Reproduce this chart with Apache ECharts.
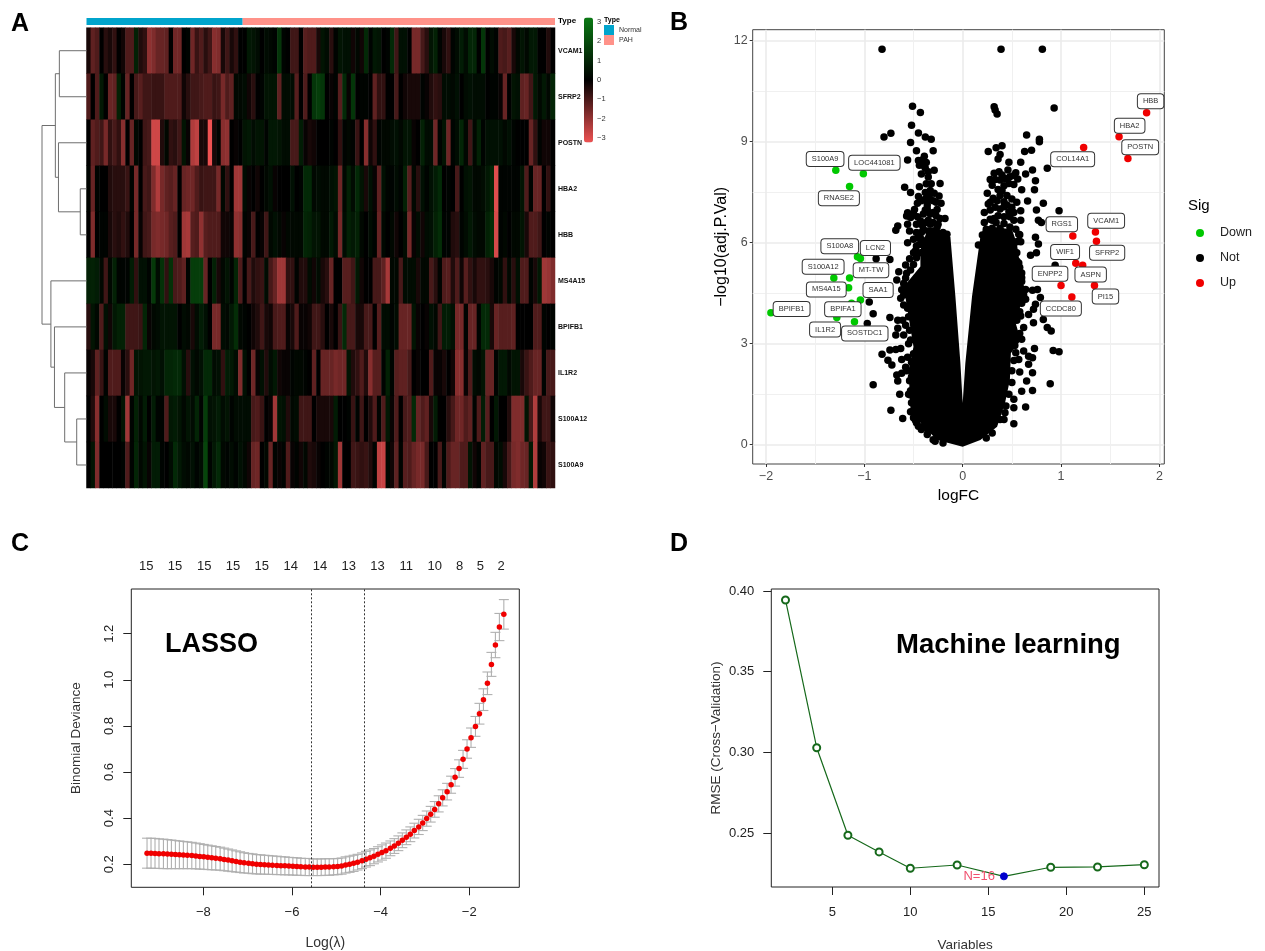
<!DOCTYPE html>
<html>
<head>
<meta charset="utf-8">
<title>Figure</title>
<script src="https://cdn.jsdelivr.net/npm/echarts@6/dist/echarts.min.js"></script>
<style>
  html, body { margin: 0; padding: 0; background: #fff; }
  #chart { width: 1265px; height: 951px; }
</style>
</head>
<body>
<div id="chart"></div>
<script>
// panel A: heatmap, 108 samples (36 Normal, 72 PAH)
const genes = ['VCAM1', 'SFRP2', 'POSTN', 'HBA2', 'HBB', 'MS4A15', 'BPIFB1', 'IL1R2', 'S100A12', 'S100A9']
const typeNames = ['Normal', 'PAH']
const typeCounts = [36, 72]
const rowVCAM1 = [-.3,-1.2,-1,0,-.5,-.3,-.6,0,-.2,-1,-1,.8,-.4,-.6,-1.8,-1.6,-1.3,-1.3,-1.2,0,-1.4,-1.4,0,.1,-1.4,-.7,-1,-.5,-.8,-1.7,-1.6,-.3,-.8,-.3,-.6,0,
  0,.6,.5,.3,0,.3,.2,.1,1.3,.1,0,-.8,-.8,0,-1.1,-1,-1,-.3,
  .5,.3,-.5,.1,.5,.4,.4,-.2,.2,-.2,1,.1,.6,.5,0,.1,1,-.8,.4,.4,0,-1.5,-1.5,-.9,-.5,.5,.8,.1,-.3,-.6,.1,.3,.7,.3,.9,.9,0,1.3,0,.3,.1,-1,-.9,-1.1,-.3,.2,.5,.2,.6,.6,0,0,-.4,0]
const rowSFRP2 = [-1,0,-1,.6,0,-1.3,-1.2,.8,.1,-1.3,0,-.9,-1.1,-.8,-.8,-.7,-.7,-.7,-1,-1,-1,-1,-.2,-.5,-.8,-.8,-.9,-1,-1,-.7,-.8,-1.5,-1,-1.2,.2,.2,
  .3,-.2,-.5,0,.1,.5,.5,.5,-1.2,.3,.3,.3,-1.1,0,-1,0,1.3,1.5,
  1.3,0,-.1,.1,-1.1,1,-.1,1.3,0,.1,.1,0,-1.2,-.6,-.6,0,0,-.9,0,-.2,-.3,-.3,-.3,.1,-.1,-.4,-.6,-.5,.3,.3,.2,.4,0,.3,.4,.3,.3,.3,0,.1,.1,-.1,-1.3,0,.5,.4,-1.2,-1.3,-.8,.6,.2,.6,.2,.9]
const rowPOSTN = [0,-1.2,-1,-.8,-1.5,-.6,-.9,-.6,-1.7,0,-1.3,.2,0,-.8,-.9,-2.6,-2.6,-.4,.2,-.6,-.5,-.8,.5,-.1,-2.2,-2.4,-.3,-.3,-3,-.3,.1,-1.7,-1.8,0,-.1,0,
  .5,.6,.3,.5,.5,.1,.6,.6,.5,.3,.3,-.9,-.9,.7,-.1,-.3,-.2,0,
  0,0,.1,0,-.6,.1,.2,.1,-.7,0,-1.7,-.2,-.6,.1,.2,.2,.3,.4,.2,.5,.5,-.1,0,.8,.3,.3,-1.4,.1,.5,-1.4,.1,.3,.9,.2,-.8,.2,.8,.1,.4,.4,.4,.4,.2,.4,.1,0,0,0,-1.3,-.6,.1,-.2,-.2,0]
const rowHBA2 = [.1,-1.3,.1,0,0,-.4,-.5,-.5,-.5,-.7,.1,-1.5,0,-.9,-.8,-1.6,-2.2,-1.5,-1.2,-1.1,-1.3,0,-1.3,-1.4,-1.4,-1,-.7,-.8,-.8,-.8,-1.5,.2,-.6,0,-2,-2,
  .3,-.1,0,-.2,0,.2,.4,-.1,0,0,0,.4,0,.1,1,1,.2,.3,
  .2,.2,.4,.5,-1.4,.2,.8,.3,1,.5,-.3,.4,-.1,-1.2,.4,.1,.1,.3,.1,.8,-1.1,.2,-.5,.4,.1,.4,.7,1,0,.1,0,-.9,0,.4,.5,.2,.2,.3,.6,.9,-2.8,.1,.1,.1,.1,.1,.5,-1,.1,-1.3,-1.3,0,-.6,0]
const rowHBB = [0,-1.6,0,.1,.1,-.3,-.5,-.4,-.6,-.4,0,-1.5,-.1,-.8,-.9,-1.5,-1.6,-1.5,-1.4,-1.1,-1,0,-2,-2.1,-1.1,-1,-1.8,-1.1,-1,-1,-1,-.2,-.2,-.1,-1.8,-1.7,
  .1,-.1,-.9,0,-.1,-.8,.2,.4,.2,-.1,.2,.2,.2,.2,.9,.8,.5,.5,
  .2,.2,.6,.3,-1.5,.3,.8,.6,.8,.2,0,.3,.1,-1.3,.2,0,.2,-.2,0,.3,-1.5,-.1,.3,-.2,.3,.4,.8,1.1,.1,.1,-.4,-.5,.1,.3,.6,.3,.2,.2,.8,1.1,-2.7,.1,.2,0,.2,.2,.5,-.3,-1,-1,-.8,0,.1,0]
const rowMS4A15 = [.8,.8,.7,.2,-.8,.2,.8,.1,.1,.1,.7,-.6,.4,.4,.1,1.4,.3,1.2,-.6,1.2,-.9,-1,-1.2,.1,1.5,1.5,1.5,-1.3,0,.8,-.3,.2,.5,.1,.9,-1,
  0,-.9,-.4,-.6,-.7,.3,-.9,-1.3,-2,-2,-.6,-.6,.1,-.4,-.4,.3,-.2,.3,
  -.3,-.5,-1.3,0,0,-1.1,-1.1,-.8,.6,-.2,0,0,-.9,-.9,-1.2,-2.1,.2,.2,-.9,.3,.3,.3,-.3,.2,.2,-.9,-.5,.1,-1,-1.1,-.4,-1,-.2,-1.1,-.6,-.3,-.6,-.6,-.5,-.3,.1,.2,-.6,.2,-.5,.4,-1,-1,.1,-.3,.6,-2,-1.9,-1.6]
const rowBPIFB1 = [-.5,.5,.2,-1,.4,-.2,.6,.8,.8,-.8,-.8,-.8,-.7,.9,-.1,.2,.3,.5,.5,.5,.5,0,.3,.2,-.3,.3,.7,.4,0,-1.5,-1.5,.3,.2,.6,1.1,.2,
  .1,0,-.2,-.4,-.8,-.3,-.2,-.9,-1,-1,-.1,-.3,-1,-.1,-.1,-.2,-.8,-.8,
  -.5,0,-.3,0,-.7,1,-.9,-.9,-.3,-.3,-.9,-.9,0,-1.1,.3,.3,.1,.3,-1.3,-1.3,-1.3,.5,-.1,0,-.1,.4,.2,-.8,.7,.7,.4,-1.5,-1.5,.1,-1.3,-1.3,.1,1,1,-.3,-1.3,-1.1,-1.1,-1.1,-1.2,0,0,0,0,-1,-1,.1,0,.1]
const rowIL1R2 = [-.1,-.3,-1.2,-.7,.1,-1,-1,-1,-.1,-.5,-1.4,.5,.5,.6,.6,.5,.6,.4,.9,.9,1,1,.4,-.5,.4,.2,.4,1,1,.3,.4,-.6,.7,.6,.3,-1.6,
  .4,0,-1.4,-.1,.4,-.4,.3,.6,-.2,-.1,-.1,.1,.2,.2,.1,0,-1.2,0,
  -1.3,-1.3,-1.3,-1.5,-1.4,-1.4,.5,-.4,-.6,-1,-.4,-1.7,-1.1,-1.1,.1,.8,.1,-1.1,-1.2,-1.2,-.9,0,-.1,0,0,-1,-.1,-.1,-.3,0,-.2,-1.7,-1.7,-.1,-1,.3,.2,.5,-1.3,-1.3,.1,.6,.6,.2,.5,.5,-.3,-.7,-1,-1.3,-1.3,.1,-.9,-.9]
const rowS100A12 = [0,-.4,-1.7,0,.3,-.3,-.3,0,.5,-2,.1,.8,.2,.7,0,.7,.1,.1,-1,.6,.7,.5,.2,.5,.3,.9,.1,1.5,.4,.5,.7,.3,.5,.1,.3,.3,
  .3,.3,-.9,-1,-.7,0,-.1,-2,.5,.4,-.4,.2,.3,-.8,-.8,-.8,0,-.3,
  -.3,-.3,-.3,.7,0,0,.1,-.7,.1,-.8,0,-.4,-1,.1,-1,.6,-.1,-1,0,-.9,-1,1,-1.3,-1,-1.2,-.3,.7,0,0,-.5,-.9,-1.4,-1.4,-1,-1.2,.1,-1,.7,-1.1,0,.6,0,0,-.4,-1.6,-1.6,-1.6,.5,-.9,-2.2,-.3,-.8,-.8,-.2]
const rowS100A9 = [0,.5,-1.6,0,0,0,0,0,.1,-1,.1,.9,.2,.5,-.1,.7,.7,.1,0,.3,1,.6,.3,.2,.4,.1,.3,1.7,.1,.6,1,.2,.1,.3,.1,.4,
  .2,-.2,-1.3,-1.4,0,.2,-1.3,.1,-.1,.1,-1,-.1,.1,-.2,.2,-.4,-.3,-.1,
  0,.1,.2,.6,-2,0,0,-.8,-.7,-.6,-.7,-.4,.1,-2.4,-2.5,.2,-.2,-1.2,.1,-1.1,-1,-1.3,-1.5,-1.5,-.9,0,0,-.9,.1,-1,-1.3,-1.3,-1,-1,.5,-.2,.1,-1.2,-.9,-.9,.2,.3,-.3,-.9,-1.5,-1.6,-1.4,-1.3,.6,-2.2,-.1,-.2,-.7,-.6]
const heatRows = [rowVCAM1, rowSFRP2, rowPOSTN, rowHBA2, rowHBB, rowMS4A15, rowBPIFB1, rowIL1R2, rowS100A12, rowS100A9]
// dendrogram merges: height, upper y, lower y, upper child height, lower child height (y in row units)
const dendroMerges = [
  [.61, .5, 1.5, 0, 0], [.14, 3.5, 4.5, 0, 0], [.63, 2.5, 4, 0, .14], [.70, 1, 3.25, .61, .63],
  [.22, 8.5, 9.5, 0, 0], [.49, 7.5, 9, 0, .22], [.72, 6.5, 8.25, 0, .49], [.80, 5.5, 7.375, 0, .72],
  [1, 2.125, 6.44, .70, .80]
]

// panel B: volcano
const downGenes = ['S100A9', 'LOC441081', 'RNASE2', 'S100A8', 'LCN2', 'S100A12', 'MT-TW', 'MS4A15', 'SAA1', 'BPIFB1', 'BPIFA1', 'IL1R2', 'SOSTDC1']
const downFC = [-1.29, -1.01, -1.15, -1.07, -1.04, -1.31, -1.15, -1.16, -1.04, -1.95, -1.13, -1.28, -1.1]
const downP = [8.15, 8.05, 7.67, 5.58, 5.53, 4.95, 4.95, 4.66, 4.3, 3.92, 4.2, 3.78, 3.65]
const upGenes = ['HBB', 'HBA2', 'POSTN', 'COL14A1', 'RGS1', 'VCAM1', 'SFRP2', 'WIF1', 'ASPN', 'ENPP2', 'PI15', 'CCDC80']
const upFC = [1.87, 1.59, 1.68, 1.23, 1.12, 1.35, 1.36, 1.15, 1.22, 1.0, 1.34, 1.11]
const upP = [9.86, 9.15, 8.5, 8.83, 6.2, 6.32, 6.04, 5.39, 5.33, 4.73, 4.73, 4.39]
// not significant genes that can be told apart
const notLeft = [[-.82,11.75],[-.51,10.05],[-.43,9.87],[-.52,9.49],[-.45,9.26],[-.8,9.14],[-.73,9.25],[-.38,9.14],[-.32,9.07],[-.53,8.98],[-.47,8.73],[-.3,8.73],[-.56,8.46],[-.45,8.44],[-.39,8.57],[-.41,8.46],[-.37,8.38],[-.38,8.21],[-.35,8.11],[-.29,8.15],[-.42,8.04],[-.32,7.75],[-.23,7.76],[-.59,7.65],[-.44,7.66],[-.53,7.49],[-.38,7.49],[-.29,7.47],[-.45,7.37],[-.24,7.39],[-.46,7.17],[-.56,6.89],[-.57,6.79],[-.49,6.99],[-.36,7.12],[-.22,7.17],[-.38,6.97],[-.26,6.99],[-.46,6.77],[-.23,6.72],[-.18,6.72],[-.66,6.5],[-.68,6.37],[-.56,6.55],[-.54,6.35],[-.41,6.52],[-.35,6.67],[-.26,6.47],[-.16,6.25],[-.56,6],[-.45,6.15],[-.41,6.05],[-.48,5.76],[-.88,5.52],[-.74,5.5],[-.54,5.52],[-.43,5.7],
  [-.58,5.34],[-.53,5.19],[-.65,5.14],[-.57,5.09],[-.67,4.89],[-.6,4.79],[-.57,4.54],[-.63,4.35],[-.6,4.15],[-.95,4.24],[-.91,3.89],[-.97,3.6],[-.74,3.78],[-.66,3.7],[-.61,3.7],[-.55,3.8],[-.66,3.46],[-.68,3.26],[-.6,3.26],[-.53,3.11],[-.82,2.69],[-.74,2.81],[-.68,2.83],[-.63,2.86],[-.76,2.51],[-.72,2.37],[-.62,2.53],[-.67,2.07],[-.62,2.12],[-.66,1.89],[-.91,1.78],[-.64,1.5],[-.53,1.48],[-.73,1.02],[-.61,.78],[-.52,2.02],[-.5,1.72],[-.53,.98],[-.48,.73],[-.4,.53],[-.35,.42],
  [-.36,7],[-.33,6.85],[-.3,6.9],[-.27,6.8],[-.4,6.85],[-.43,6.65],[-.37,6.6],[-.33,6.55],[-.3,6.6],[-.25,6.55],[-.4,6.4],[-.35,6.35],[-.3,6.35],[-.26,6.3],[-.2,6.3],[-.42,6.3],[-.47,6.3],[-.5,6.1],[-.44,5.95],[-.38,5.95],[-.32,6.1],[-.28,6.1],[-.22,6.1],[-.47,5.9],[-.5,5.7],[-.36,7.25],[-.42,7.25],[-.34,7.35],[-.3,7.25],[-.38,7.3],[-.5,6.85],[-.53,6.75],[-.47,6.55],[-.33,7.55],[-.37,7.75],[-.35,7.95],[-.27,7.2],[-.4,8.3],[-.44,8.3],
  [-.55,3],[-.56,2.6],[-.58,2.3],[-.55,1.5],[-.5,.8],[-.45,.55],[-.3,.15],[-.2,.05],
  [-.5,.95],[-.52,1.25],[-.53,1.6],[-.54,1.9],[-.57,2.2],[-.52,2.45],[-.5,2.7],[-.54,3.4],[-.58,3.55],[-.56,4.05],[-.6,4.45],[-.62,4.6],[-.58,4.95],[-.5,5.35],[-.47,5.55],[-.4,5.95],[-.42,6.1],[-.36,.3],[-.42,.45],[-.47,.65],[-.28,.1]]
const notRight = [[.39,11.75],[.81,11.75],[.32,10.04],[.33,9.94],[.35,9.82],[.93,10],[.65,9.2],[.78,9.07],[.78,9],[.4,8.88],[.34,8.82],[.26,8.71],[.63,8.71],[.7,8.75],[.38,8.62],[.36,8.49],[.47,8.39],[.59,8.39],[.86,8.21],[.71,8.16],[.64,8.04],[.46,8.16],[.54,8.08],[.56,7.89],[.74,7.84],[.52,7.73],[.6,7.57],[.73,7.57],[.25,7.47],[.31,7.32],[.66,7.24],[.82,7.17],[.26,7.15],[.42,7.22],[.45,7.12],[.98,6.95],[.75,6.97],[.59,6.95],[.28,6.97],[.77,6.67],[.8,6.6],[.88,6.65],[.59,6.67],[.58,6.24],[.74,6.16],[.77,5.96],[.52,5.73],[.59,6.03],[.75,5.7],[.69,5.63],
  [.32,8.06],[.37,8.11],[.4,8.01],[.28,7.88],[.33,7.88],[.38,7.86],[.43,7.91],[.48,7.96],[.3,7.71],[.36,7.58],[.42,7.69],[.47,7.76],[.4,7.54],[.42,7.07],[.47,6.92],[.48,6.77],[.52,6.67],[.3,6.67],[.32,6.72],[.42,6.57],[.48,6.47],[.3,6.43],[.38,6.43],[.2,6.23],[.26,6.18],[.4,6.18],[.48,6.18],[.55,6.03],[.16,5.93],[.42,6.77],
  [.57,6.25],[.57,6.05],[.55,5.46],[.58,5.26],[.94,5.33],[.43,5.36],[.42,5.1],[.6,4.96],[.59,4.66],[.64,4.61],[.71,4.59],[.76,4.61],[.79,4.37],[.64,4.32],[.74,4.17],[.72,4.02],[.59,3.82],[.67,3.87],[.72,3.62],[.82,3.72],[.86,3.48],[.9,3.38],[.62,3.48],[.6,3.13],[.73,2.86],[.92,2.8],[.98,2.76],[.62,2.78],[.54,2.73],[.67,2.63],[.71,2.58],[.57,2.53],[.67,2.39],[.71,2.14],[.58,2.16],[.65,1.89],[.89,1.81],[.71,1.61],[.6,1.59],[.52,1.35],[.64,1.12],[.52,1.1],[.52,.62],[.42,.75],[.43,.95],
  [.62,4.45],[.6,4.2],[.58,3.95],[.55,3.7],[.58,3.3],[.53,2.95],[.52,2.5],[.5,2.2],[.5,1.85],[.47,1.5],[.44,1.15],[.38,.75],[.3,.35],[.24,.2],[.55,5.7],[.57,5.4],[.6,5.1],[.6,4.85],
  [.22,6.6],[.28,6.7],[.34,6.6],[.36,6.8],[.38,7],[.33,7.05],[.28,7.2],[.35,7.25],[.38,7.4],[.45,7.4],[.5,7.3],[.5,7.05],[.22,6.9],[.24,6.4],[.46,6.3],[.54,6.4],[.52,6.9],[.55,7.2],[.52,8]]
// outline of the solid black mass where single genes can't be told apart
const massOutline = [[0,-.06],[-.26,.14],[-.41,.58],[-.53,1.03],[-.55,2.22],[-.5,2.91],[-.55,3.8],[-.6,4.69],[-.43,5.29],[-.43,5.78],[-.36,6.38],[-.16,6.2],[-.125,6.18],[-.074,4.4],[-.023,2.42],[0,1.24],[.027,2.42],[.095,4.4],[.18,6.18],[.22,6.5],[.5,6.4],[.55,5.99],[.59,5.19],[.62,4.5],[.54,3.6],[.59,3.1],[.49,2.72],[.48,1.92],[.43,1.23],[.35,.53],[.18,.14]]

// panel C: lasso
const lassoLogL = [-9.27,-9.18,-9.09,-9.00,-8.90,-8.81,-8.72,-8.63,-8.54,-8.45,-8.36,-8.26,-8.17,-8.08,-7.99,-7.90,-7.81,-7.72,-7.62,-7.53,-7.44,-7.35,-7.26,-7.17,-7.08,-6.98,-6.89,-6.80,-6.71,-6.62,-6.53,-6.44,-6.34,-6.25,-6.16,-6.07,-5.98,-5.89,-5.80,-5.70,-5.61,-5.52,-5.43,-5.34,-5.25,-5.16,-5.06,-4.97,-4.88,-4.79,-4.70,-4.61,-4.52,-4.42,-4.33,-4.24,-4.15,-4.06,-3.97,-3.88,-3.78,-3.69,-3.60,-3.51,-3.42,-3.33,-3.24,-3.14,-3.05,-2.96,-2.87,-2.78,-2.69,-2.60,-2.50,-2.41,-2.32,-2.23,-2.14,-2.05,-1.96,-1.86,-1.77,-1.68,-1.59,-1.50,-1.41,-1.32,-1.22]
const lassoDev = [.248,.248,.247,.246,.245,.244,.243,.242,.241,.240,.239,.238,.236,.234,.232,.230,.228,.226,.224,.221,.218,.215,.212,.209,.206,.204,.202,.200,.199,.198,.197,.196,.195,.194,.193,.192,.191,.190,.189,.188,.188,.187,.187,.187,.188,.188,.189,.190,.192,.197,.200,.204,.209,.215,.222,.228,.235,.243,.251,.259,.269,.279,.291,.304,.317,.33,.346,.362,.379,.398,.417,.438,.462,.488,.515,.545,.577,.615,.655,.70,.749,.798,.853,.914,.985,1.067,1.151,1.229,1.284]
const lassoSe = [.065,.065,.065,.064,.064,.063,.062,.061,.060,.059,.058,.057,.056,.055,.054,.053,.052,.051,.050,.049,.048,.047,.046,.045,.044,.043,.043,.042,.042,.041,.041,.040,.040,.039,.039,.038,.038,.038,.037,.037,.037,.036,.036,.036,.036,.036,.035,.035,.035,.035,.035,.035,.034,.034,.034,.034,.033,.033,.033,.033,.032,.032,.032,.032,.032,.032,.032,.033,.033,.033,.034,.034,.035,.035,.036,.037,.038,.038,.039,.040,.042,.043,.045,.047,.049,.052,.055,.059,.064]
const lassoLambdas = [-5.57, -4.36]
const dfPositions = [-9.29, -8.64, -7.98, -7.33, -6.68, -6.03, -5.37, -4.72, -4.07, -3.42, -2.78, -2.22, -1.75, -1.28]
const dfCounts = ['15', '15', '15', '15', '15', '14', '14', '13', '13', '11', '10', '8', '5', '2']

// panel D: RFE
const rfeVars = [2, 4, 6, 8, 10, 13, 16, 19, 22, 25]
const rfeRmse = [.3944, .303, .2488, .2385, .2284, .2304, .2234, .229, .2292, .2306]
const bestVars = 16

// label box offsets from their point, px
const downOffsets = [[-10.7,-11.3],[11,-11],[-10.7,11.7],[-17.7,-10.7],[15,-10.6],[-10.7,-11.3],[21.4,-7.7],[-22.3,1.6],[17.7,-10],[20.7,-3.7],[-8.7,6],[-11.7,12],[10.3,11.6]]
const upOffsets = [[4,-11.4],[10.6,-11],[12.3,-11.3],[-11,11.7],[-11,-11.7],[10.7,-11.3],[10.7,11.4],[-10.7,-11.3],[8,9.3],[-11,-11.7],[11,11],[-11,11.6]]

const FONT = '"Liberation Sans", Arial, sans-serif'
const minus = v => String(v).replace('-', '\u2212')

const heatData = []
heatRows.forEach((row, r) => row.forEach((v, c) => heatData.push([c, r, v])))

const volcanoLabel = { show: true, position: 'inside', formatter: '{b}', color: '#333', fontSize: 7.5, fontFamily: FONT,
  backgroundColor: '#fff', borderColor: '#333', borderWidth: 1, borderRadius: 3, padding: [3, 5] }

const hiddenAxis = (gridIndex, extra) => Object.assign({ gridIndex, show: false }, extra)
const rAxisBase = {
  axisLine: { show: false, onZero: false }, splitLine: { show: false },
  axisTick: { length: 8, inside: false, lineStyle: { color: '#222' } },
  nameLocation: 'middle', nameTextStyle: { fontFamily: FONT, fontSize: 13.5, color: '#333' }
}
const rLabel = { fontFamily: FONT, fontSize: 13, color: '#222' }

const bigText = (x, y, text, size, bold) => ({ type: 'text', x, y,
  style: { text, fontFamily: FONT, fontSize: size, fontWeight: bold ? 'bold' : 'normal', fill: '#000', textVerticalAlign: 'middle' } })

const chart = echarts.init(document.getElementById('chart'), null, { renderer: 'canvas' })
chart.setOption({
  animation: false,
  backgroundColor: '#fff',
  textStyle: { fontFamily: FONT },
  graphic: [
    bigText(11, 24, 'A', 25, true), bigText(670, 23, 'B', 25, true),
    bigText(11, 544, 'C', 25, true), bigText(670, 544, 'D', 25, true),
    bigText(558, 21, 'Type', 8, true), bigText(604, 20, 'Type', 7, true),
    bigText(1188, 206, 'Sig', 15, false),
    bigText(165, 645, 'LASSO', 27, true), bigText(896, 645, 'Machine learning', 27.5, true)
  ],
  legend: [
    { data: typeNames, left: 604, top: 25, orient: 'vertical', itemWidth: 10, itemHeight: 10, itemGap: 0, padding: 0,
      textStyle: { fontSize: 7, fontFamily: FONT, color: '#333' }, icon: 'rect' },
    { data: ['Down', 'Not', 'Up'], left: 1196, top: 226.5, orient: 'vertical', itemWidth: 30, itemHeight: 8, itemGap: 12, padding: 0,
      icon: 'circle', textStyle: { fontSize: 12.5, fontFamily: FONT, color: '#222', height: 14 } }
  ],
  visualMap: {
    type: 'continuous', seriesIndex: 0, min: -3, max: 3, left: 584, top: 17.5, itemWidth: 9, itemHeight: 125,
    calculable: false, text: null, padding: 0, inRange: { color: ['#ee5252', '#000000', '#0a7a14'] }
  },
  grid: [
    { left: 86.5, top: 27.7, width: 468.5, height: 460.3, outerBoundsMode: 'none' },
    { left: 86.5, top: 18, width: 468.5, height: 7, outerBoundsMode: 'none' },
    { left: 42, top: 27.7, width: 44.5, height: 460.3, outerBoundsMode: 'none' },
    { left: 584, top: 21.7, width: 9, height: 116.6, outerBoundsMode: 'none' },
    { left: 752.7, top: 29.7, width: 411.6, height: 434.3, outerBoundsMode: 'none', show: true, borderColor: '#444', borderWidth: 1, backgroundColor: '#fff' },
    { left: 131.3, top: 589, width: 388, height: 298.3, outerBoundsMode: 'none', show: true, borderColor: '#222', borderWidth: 1 },
    { left: 771.3, top: 589, width: 387.7, height: 298, outerBoundsMode: 'none', show: true, borderColor: '#222', borderWidth: 1 }
  ],
  xAxis: [
    { gridIndex: 0, type: 'category', show: false, data: heatRows[0].map((v, i) => i) },
    hiddenAxis(1, { type: 'value', min: 0, max: 108 }),
    hiddenAxis(2, { type: 'value', min: 0, max: 1, inverse: true }),
    hiddenAxis(3, { type: 'category', data: ['bar'] }),
    // volcano major axis
    { gridIndex: 4, type: 'value', min: -2.135, max: 2.05, position: 'bottom', name: 'logFC', nameLocation: 'middle', nameGap: 24,
      nameTextStyle: { fontFamily: FONT, fontSize: 15.5, color: '#000' },
      axisLine: { show: false, onZero: false },
      axisTick: { length: 3, lineStyle: { color: '#333' }, customValues: [-2, -1, 0, 1, 2] },
      axisLabel: { customValues: [-2, -1, 0, 1, 2], formatter: minus, fontSize: 12.5, color: '#4d4d4d', fontFamily: FONT, margin: 6 },
      splitLine: { show: true, lineStyle: { color: '#ebebeb', width: 1.6 } } },
    // volcano minor grid
    { gridIndex: 4, type: 'value', min: -2.135, max: 2.05, position: 'top', axisLine: { show: false, onZero: false },
      axisTick: { show: false, customValues: [-1.5, -.5, .5, 1.5] }, axisLabel: { show: false },
      splitLine: { show: true, lineStyle: { color: '#f0f0f0', width: 1 } } },
    // lasso
    Object.assign({}, rAxisBase, { gridIndex: 5, type: 'value', min: -9.625, max: -.871, position: 'bottom', name: 'Log(\u03bb)', nameGap: 49,
      nameTextStyle: { fontFamily: FONT, fontSize: 14, color: '#333' },
      axisTick: Object.assign({}, rAxisBase.axisTick, { customValues: [-8, -6, -4, -2] }),
      axisLabel: Object.assign({}, rLabel, { customValues: [-8, -6, -4, -2], formatter: minus, margin: 19 }) }),
    { gridIndex: 5, type: 'value', min: -9.625, max: -.871, position: 'top', axisLine: { show: false, onZero: false }, splitLine: { show: false },
      axisTick: { show: false, customValues: dfPositions },
      axisLabel: Object.assign({}, rLabel, { customValues: dfPositions, margin: 16, formatter: v => dfCounts[dfPositions.indexOf(v)] }) },
    // rfe
    Object.assign({}, rAxisBase, { gridIndex: 6, type: 'value', min: 1.09, max: 25.94, position: 'bottom', name: 'Variables', nameGap: 51,
      axisTick: Object.assign({}, rAxisBase.axisTick, { customValues: [5, 10, 15, 20, 25] }),
      axisLabel: Object.assign({}, rLabel, { customValues: [5, 10, 15, 20, 25], margin: 19 }) })
  ],
  yAxis: [
    { gridIndex: 0, type: 'category', inverse: true, data: genes, position: 'right',
      axisLine: { show: false }, axisTick: { show: false }, splitLine: { show: false },
      axisLabel: { fontSize: 7, fontWeight: 'bold', fontFamily: FONT, color: '#111', margin: 3 } },
    hiddenAxis(1, { type: 'category', data: ['Type'] }),
    hiddenAxis(2, { type: 'value', min: 0, max: 10, inverse: true }),
    { gridIndex: 3, type: 'value', min: -3, max: 3, interval: 1, position: 'right', axisLine: { show: false }, axisTick: { show: false }, splitLine: { show: false },
      axisLabel: { fontSize: 7.5, color: '#333', fontFamily: FONT, margin: 4, formatter: minus } },
    { gridIndex: 4, type: 'value', min: -.573, max: 12.327, position: 'left', name: '\u2212log10(adj.P.Val)', nameLocation: 'middle', nameGap: 23,
      nameTextStyle: { fontFamily: FONT, fontSize: 16, color: '#000' },
      axisLine: { show: false, onZero: false },
      axisTick: { length: 3, lineStyle: { color: '#333' }, customValues: [0, 3, 6, 9, 12] },
      axisLabel: { customValues: [0, 3, 6, 9, 12], fontSize: 12.5, color: '#4d4d4d', fontFamily: FONT, margin: 5 },
      splitLine: { show: true, lineStyle: { color: '#ebebeb', width: 1.6 } } },
    { gridIndex: 4, type: 'value', min: -.573, max: 12.327, position: 'right', axisLine: { show: false, onZero: false },
      axisTick: { show: false, customValues: [1.5, 4.5, 7.5, 10.5] }, axisLabel: { show: false },
      splitLine: { show: true, lineStyle: { color: '#f0f0f0', width: 1 } } },
    Object.assign({}, rAxisBase, { gridIndex: 5, type: 'value', min: .1, max: 1.394, position: 'left', name: 'Binomial Deviance', nameGap: 48,
      axisTick: Object.assign({}, rAxisBase.axisTick, { customValues: [.2, .4, .6, .8, 1, 1.2] }),
      axisLabel: Object.assign({}, rLabel, { customValues: [.2, .4, .6, .8, 1, 1.2], rotate: 90, margin: 15, formatter: v => v.toFixed(1) }) }),
    Object.assign({}, rAxisBase, { gridIndex: 6, type: 'value', min: .2168, max: .4012, position: 'left', name: 'RMSE (Cross\u2212Validation)', nameGap: 48,
      axisTick: Object.assign({}, rAxisBase.axisTick, { customValues: [.25, .3, .35, .4] }),
      axisLabel: Object.assign({}, rLabel, { customValues: [.25, .3, .35, .4], margin: 17, formatter: v => v.toFixed(2) }) })
  ],
  series: [
    { type: 'heatmap', xAxisIndex: 0, yAxisIndex: 0, data: heatData, progressive: 0, itemStyle: { borderWidth: 0 } },
    { type: 'bar', name: typeNames[0], stack: 'type', xAxisIndex: 1, yAxisIndex: 1, barWidth: '100%', data: [typeCounts[0]], itemStyle: { color: '#00a4cc' } },
    { type: 'bar', name: typeNames[1], stack: 'type', xAxisIndex: 1, yAxisIndex: 1, barWidth: '100%', data: [typeCounts[1]], itemStyle: { color: '#ff9289' } },
    { type: 'custom', xAxisIndex: 2, yAxisIndex: 2, data: dendroMerges, silent: true,
      renderItem: (params, api) => {
        const pts = [[api.value(3), api.value(1)], [api.value(0), api.value(1)], [api.value(0), api.value(2)], [api.value(4), api.value(2)]]
        return { type: 'polyline', shape: { points: pts.map(p => api.coord(p)) }, style: { fill: 'none', stroke: '#6e6e6e', lineWidth: 1 } }
      } },
    { type: 'custom', xAxisIndex: 4, yAxisIndex: 4, data: massOutline, silent: true, z: 2,
      renderItem: (params, api) => {
        if (params.dataIndex !== 0) return
        return { type: 'polygon', shape: { points: massOutline.map(p => api.coord(p)) }, style: { fill: '#000' } }
      } },
    { type: 'scatter', name: 'Not', xAxisIndex: 4, yAxisIndex: 4, data: notLeft.concat(notRight), symbolSize: 7.5, itemStyle: { color: '#000', opacity: 1 }, z: 2, large: false },
    { type: 'scatter', name: 'Down', xAxisIndex: 4, yAxisIndex: 4, symbolSize: 7.5, itemStyle: { color: '#00c800', opacity: 1 }, z: 3, label: volcanoLabel,
      data: downGenes.map((g, i) => ({ name: g, value: [downFC[i], downP[i]], label: { offset: downOffsets[i] } })) },
    { type: 'scatter', name: 'Up', xAxisIndex: 4, yAxisIndex: 4, symbolSize: 7.5, itemStyle: { color: '#f00000', opacity: 1 }, z: 3, label: volcanoLabel,
      data: upGenes.map((g, i) => ({ name: g, value: [upFC[i], upP[i]], label: { offset: upOffsets[i] } })) },
    { type: 'custom', xAxisIndex: 6, yAxisIndex: 6, silent: true, encode: { x: 0, y: [1, 2] },
      data: lassoLogL.map((x, i) => [x, lassoDev[i] - lassoSe[i], lassoDev[i] + lassoSe[i]]),
      renderItem: (params, api) => {
        const lo = api.coord([api.value(0), api.value(1)])
        const hi = api.coord([api.value(0), api.value(2)])
        const style = { stroke: '#b0b0b0', lineWidth: 1.1 }
        return { type: 'group', children: [
          { type: 'line', shape: { x1: lo[0], y1: lo[1], x2: hi[0], y2: hi[1] }, style },
          { type: 'line', shape: { x1: lo[0] - 5, y1: lo[1], x2: lo[0] + 5, y2: lo[1] }, style },
          { type: 'line', shape: { x1: hi[0] - 5, y1: hi[1], x2: hi[0] + 5, y2: hi[1] }, style }
        ] }
      } },
    { type: 'scatter', xAxisIndex: 6, yAxisIndex: 6, data: lassoLogL.map((x, i) => [x, lassoDev[i]]), symbolSize: 5.5, itemStyle: { color: '#f00000', opacity: 1 }, z: 3,
      markLine: { silent: true, symbol: 'none', label: { show: false }, lineStyle: { color: '#333', type: [2, 2], width: 1 },
        data: lassoLambdas.map(v => ({ xAxis: v })) } },
    { type: 'line', xAxisIndex: 8, yAxisIndex: 7, symbol: 'emptyCircle', symbolSize: 7,
      lineStyle: { color: '#16691b', width: 1.2 }, itemStyle: { color: '#16691b', borderWidth: 1 },
      data: rfeVars.map((x, i) => x === bestVars
        ? { value: [x, rfeRmse[i]], symbol: 'circle', symbolSize: 7, itemStyle: { color: '#0000cd', borderColor: '#0000cd' },
            label: { show: true, position: 'left', distance: 5, formatter: 'N=' + bestVars, color: '#f0506e', fontSize: 13, fontFamily: FONT } }
        : [x, rfeRmse[i]]) }
  ]
})
window.addEventListener('resize', () => chart.resize())
</script>
</body>
</html>
